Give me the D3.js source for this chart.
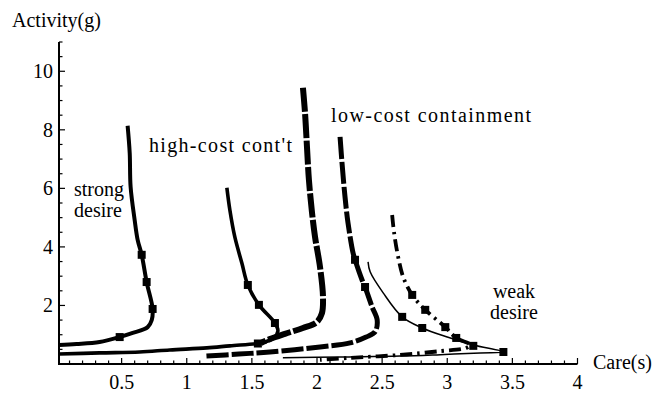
<!DOCTYPE html>
<html><head><meta charset="utf-8">
<script src="https://cdn.jsdelivr.net/npm/d3@7"></script>
<style>
body{margin:0;background:#fff}
</style>
</head><body>
<svg id="chart" width="654" height="393" font-family="'Liberation Serif', 'Times New Roman', 'DejaVu Serif', serif"></svg>
<script>
// ---- data ----
const xTicks = [0.5, 1, 1.5, 2, 2.5, 3, 3.5, 4];
const xTickLabels = ["0.5", "1", "1.5", "2", "2.5", "3", "3.5", "4"];
const yTicks = [2, 4, 6, 8, 10];
const yTickLabels = ["2", "4", "6", "8", "10"];

const strongDesire = [[0.546,8.14],[0.562,7.21],[0.569,6.05],[0.600,4.92],[0.623,4.24],[0.654,3.73],[0.692,2.80],[0.738,1.88],[0.731,1.50],[0.700,1.26],[0.585,1.06],[0.485,0.92],[0.331,0.75],[0.154,0.68],[0.02,0.65]];
const strongDesireMarks = [[0.654,3.73],[0.692,2.80],[0.738,1.88],[0.485,0.92]];

const highCost = [[1.308,6.02],[1.331,5.26],[1.369,4.34],[1.423,3.45],[1.469,2.70],[1.554,2.02],[1.677,1.40],[1.700,1.13],[1.669,0.89],[1.600,0.75],[1.546,0.70],[1.331,0.62],[1.154,0.55],[0.869,0.48],[0.638,0.41],[0.331,0.38],[0.02,0.34]];
const highCostMarks = [[1.469,2.70],[1.554,2.02],[1.677,1.40],[1.546,0.70]];

const midCurve = [[1.892,9.44],[1.908,8.58],[1.923,7.42],[1.938,6.29],[1.962,5.16],[1.985,4.34],[2.023,3.32],[2.046,2.29],[2.038,1.74],[2.000,1.44],[1.892,1.23],[1.754,1.03],[1.638,0.85],[1.570,0.72]];

const lowCost = [[2.177,7.76],[2.192,6.87],[2.215,5.71],[2.238,4.82],[2.277,3.79],[2.292,3.56],[2.346,2.87],[2.369,2.63],[2.423,1.95],[2.462,1.50],[2.446,1.10],[2.377,0.92],[2.254,0.72],[2.023,0.58],[1.638,0.41],[1.400,0.34],[1.150,0.27]];
const lowCostMarks = [[2.292,3.56],[2.369,2.63]];

const weakDesire = [[2.392,3.49],[2.408,3.15],[2.508,2.43],[2.654,1.61],[2.808,1.23],[3.000,0.92],[3.200,0.65],[3.431,0.41],[3.254,0.38],[2.946,0.32],[2.638,0.27],[2.177,0.24],[1.738,0.21]];
const weakDesireMarks = [[2.654,1.61],[2.808,1.23],[3.200,0.62],[3.431,0.41]];

const dotDash = [[2.577,5.09],[2.592,4.48],[2.623,3.66],[2.662,2.97],[2.731,2.36],[2.831,1.85],[2.985,1.26],[3.069,0.89],[3.177,0.66],[3.146,0.55],[2.946,0.44],[2.638,0.31],[2.254,0.21],[2.023,0.14]];
const dotDashMarks = [[2.731,2.36],[2.831,1.85],[2.985,1.26],[3.069,0.89]];

// ---- drawing ----
const svg = d3.select("#chart");
const FS = 20;
const x = d3.scaleLinear().domain([0, 4]).range([56.5, 577.5]);
const y = d3.scaleLinear().domain([0, 11]).range([364, 42]);
const xOrigin = x.invert(59);

// axes lines
svg.append("line").attr("x1", x(xOrigin)).attr("x2", x(4)).attr("y1", y(0)).attr("y2", y(0))
  .attr("stroke", "#000").attr("stroke-width", 2);
svg.append("line").attr("x1", x(xOrigin)).attr("x2", x(xOrigin)).attr("y1", y(0)+1).attr("y2", y(11))
  .attr("stroke", "#000").attr("stroke-width", 2);

// x ticks (inside, upward)
const xMinor = d3.range(1, 41).map(i => i / 10);
svg.append("g").selectAll("line").data(xMinor).join("line")
  .attr("x1", d => x(d)).attr("x2", d => x(d))
  .attr("y1", y(0)).attr("y2", d => Math.abs(d*2 - Math.round(d*2)) < 1e-6 ? y(0) - 6 : y(0) - 3.5)
  .attr("stroke", "#000").attr("stroke-width", 1.2);
svg.append("g").selectAll("text").data(xTicks).join("text")
  .attr("x", d => x(d)).attr("y", 389).attr("text-anchor", "middle")
  .attr("font-size", FS).text((d, i) => xTickLabels[i]);

// y ticks (inside, rightward)
const yMinor = d3.range(1, 23).map(i => i / 2);
svg.append("g").selectAll("line").data(yMinor).join("line")
  .attr("x1", x(xOrigin)).attr("x2", d => d % 2 === 0 ? x(xOrigin) + 6 : x(xOrigin) + 3.5)
  .attr("y1", d => y(d)).attr("y2", d => y(d))
  .attr("stroke", "#000").attr("stroke-width", 1.2);
svg.append("g").selectAll("text").data(yTicks).join("text")
  .attr("x", 53).attr("y", d => y(d)).attr("dy", "0.35em").attr("text-anchor", "end")
  .attr("font-size", FS).text((d, i) => yTickLabels[i]);

// axis titles
svg.append("text").attr("x", 12).attr("y", 27).attr("font-size", FS).text("Activity(g)");
svg.append("text").attr("x", 593).attr("y", 369).attr("font-size", FS).text("Care(s)");

// curves
const line = d3.line().x(d => x(d[0])).y(d => y(d[1])).curve(d3.curveCatmullRom.alpha(0.5));
const series = [
  {data: strongDesire, marks: strongDesireMarks, w: 4, dash: null},
  {data: highCost, marks: highCostMarks, w: 3.6, dash: null},
  {data: midCurve, marks: [], w: 6, dash: "24,2.5"},
  {data: lowCost, marks: lowCostMarks, w: 5, dash: "22,3"},
  {data: dotDash, marks: dotDashMarks, w: 3.8, dash: "12,5,2.5,5"},
  {data: weakDesire, marks: weakDesireMarks, w: 1.5, dash: null},
];
series.forEach(s => {
  svg.append("path").attr("d", line(s.data)).attr("fill", "none")
    .attr("stroke", "#000").attr("stroke-width", s.w)
    .attr("stroke-dasharray", s.dash).attr("stroke-linecap", "butt").attr("stroke-linejoin", "round");
  svg.append("g").selectAll("rect").data(s.marks).join("rect")
    .attr("x", d => x(d[0]) - 4).attr("y", d => y(d[1]) - 4)
    .attr("width", 8).attr("height", 8).attr("fill", "#000");
});

// curve labels
svg.append("text").attr("x", 149).attr("y", 152).attr("font-size", FS)
  .attr("textLength", 143).attr("lengthAdjust", "spacing").text("high-cost cont't");
svg.append("text").attr("x", 331).attr("y", 122).attr("font-size", FS)
  .attr("textLength", 200).attr("lengthAdjust", "spacing").text("low-cost containment");
svg.append("text").attr("x", 99).attr("y", 196).attr("font-size", FS).attr("text-anchor", "middle").text("strong");
svg.append("text").attr("x", 98).attr("y", 217).attr("font-size", FS).attr("text-anchor", "middle").text("desire");
svg.append("text").attr("x", 514).attr("y", 298).attr("font-size", FS).attr("text-anchor", "middle").text("weak");
svg.append("text").attr("x", 514).attr("y", 319).attr("font-size", FS).attr("text-anchor", "middle").text("desire");
</script>
</body></html>
